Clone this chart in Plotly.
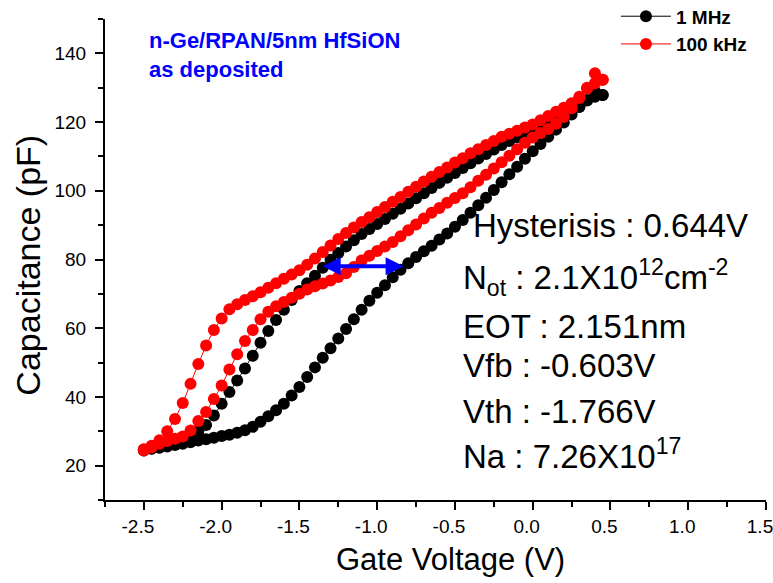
import plotly.graph_objects as go

# Gate voltage sweep points (V)
voltage = [-2.50, -2.45, -2.40, -2.35, -2.30, -2.25, -2.20, -2.15, -2.10, -2.05,
           -2.00, -1.95, -1.90, -1.85, -1.80, -1.75, -1.70, -1.65, -1.60, -1.55,
           -1.50, -1.45, -1.40, -1.35, -1.30, -1.25, -1.20, -1.15, -1.10, -1.05,
           -1.00, -0.95, -0.90, -0.85, -0.80, -0.75, -0.70, -0.65, -0.60, -0.55,
           -0.50, -0.45, -0.40, -0.35, -0.30, -0.25, -0.20, -0.15, -0.10, -0.05,
           0.00, 0.05, 0.10, 0.15, 0.20, 0.25, 0.30, 0.35, 0.40, 0.45]

# 1 MHz: forward sweep (lower branch) and reverse sweep (upper branch), pF
mhz_forward = [24.6, 24.9, 25.2, 25.6, 26.0, 26.4, 26.8, 27.3, 27.7, 28.1,
               28.6, 29.0, 29.6, 30.3, 31.3, 32.8, 34.4, 36.1, 38.0, 40.4,
               42.9, 45.8, 48.6, 51.4, 54.2, 57.0, 59.8, 62.6, 65.4, 68.0,
               70.3, 72.5, 74.8, 77.0, 78.9, 80.7, 82.4, 84.0, 85.8, 87.6,
               89.5, 91.5, 93.6, 95.8, 98.0, 100.2, 102.5, 104.8, 107.0, 109.3,
               111.5, 113.6, 115.7, 117.8, 119.9, 122.2, 124.4, 126.4, 127.4, 127.9]
mhz_reverse = [24.4, 25.0, 25.6, 26.3, 27.0, 27.8, 28.8, 30.0, 31.8, 34.6,
               38.0, 41.4, 44.8, 48.3, 52.0, 55.8, 59.2, 62.4, 65.4, 68.2,
               70.8, 73.1, 75.3, 77.6, 79.9, 81.9, 83.8, 85.6, 87.4, 88.9,
               90.3, 91.8, 93.3, 94.8, 96.3, 97.8, 99.3, 100.8, 102.3, 103.8,
               105.2, 106.6, 108.0, 109.4, 110.7, 112.0, 113.3, 114.5, 115.6, 116.7,
               117.8, 118.9, 120.0, 121.0, 122.0, 123.2, 124.5, 126.3, 128.9, 127.9]

# 100 kHz: forward and reverse sweeps, pF
khz_forward = [24.4, 25.3, 26.4, 27.2, 27.8, 28.5, 30.2, 33.0, 35.6, 39.4,
               43.3, 48.0, 52.4, 56.3, 59.5, 62.6, 64.8, 66.4, 67.6, 68.9,
               70.0, 71.3, 72.2, 73.0, 73.9, 74.9, 76.0, 77.8, 79.7, 81.1,
               82.5, 83.8, 85.1, 86.8, 88.5, 90.2, 91.9, 93.6, 95.0, 96.5,
               97.9, 99.3, 101.0, 102.9, 104.7, 106.5, 108.3, 110.2, 112.1, 114.0,
               115.5, 116.8, 118.0, 119.5, 121.5, 124.0, 127.0, 130.0, 131.3, 132.3]
khz_reverse = [24.8, 25.8, 27.4, 30.0, 33.6, 38.2, 43.8, 49.6, 55.0, 59.5,
               62.8, 65.5, 67.0, 68.2, 69.3, 70.5, 71.8, 73.1, 74.4, 75.6,
               76.9, 78.5, 80.3, 82.2, 84.1, 86.0, 87.7, 89.3, 90.9, 92.3,
               93.8, 95.3, 96.8, 98.2, 99.7, 101.2, 102.7, 104.1, 105.5, 106.8,
               108.2, 109.5, 110.9, 112.1, 113.3, 114.5, 115.7, 116.6, 117.5, 118.4,
               119.3, 120.5, 121.8, 123.0, 124.2, 125.5, 127.4, 129.8, 134.2, 132.3]

series_names = ["1 MHz", "100 kHz"]
x_ticks = [-2.5, -2.0, -1.5, -1.0, -0.5, 0.0, 0.5, 1.0, 1.5]
y_ticks = [20, 40, 60, 80, 100, 120, 140]

# hysteresis arrow end points (V, pF)
arrow_v = [-1.36, -0.83]
arrow_c = [78.0, 78.0]

FONT = "Liberation Sans, Arial, sans-serif"

fig = go.Figure()

def loop(fwd, rev):
    xs = list(voltage) + list(reversed(voltage))
    ys = list(fwd) + list(reversed(rev))
    return xs, ys

for name, fwd, rev, col in [(series_names[0], mhz_forward, mhz_reverse, "#000000"),
                            (series_names[1], khz_forward, khz_reverse, "#FF0000")]:
    xs, ys = loop(fwd, rev)
    fig.add_trace(go.Scatter(
        x=xs, y=ys, mode="lines+markers", name=name,
        line=dict(color=col, width=1),
        marker=dict(color=col, size=12, symbol="circle", line=dict(width=0)),
    ))

fig.add_annotation(
    x=arrow_v[1], y=arrow_c[1], ax=arrow_v[0], ay=arrow_c[0],
    xref="x", yref="y", axref="x", ayref="y",
    text="", showarrow=True, arrowhead=2, startarrowhead=2, arrowside="end+start",
    arrowsize=0.9, startarrowsize=0.9, arrowwidth=4, arrowcolor="#0000FF",
)

big = dict(family=FONT, size=33, color="black")
lines = [
    ("Hysterisis : 0.644V", 0.553, 0.570),
    ("N<sub>ot</sub> : 2.1X10<sup>12</sup>cm<sup>-2</sup>", 0.538, 0.462),
    ("EOT : 2.151nm", 0.538, 0.360),
    ("Vfb : -0.603V", 0.538, 0.2805),
    ("Vth : -1.766V", 0.538, 0.185),
    ("Na : 7.26X10<sup>17</sup>", 0.538, 0.095),
]
for txt, xp, yp in lines:
    fig.add_annotation(x=xp, y=yp, xref="paper", yref="paper", text=txt,
                       showarrow=False, xanchor="left", yanchor="middle",
                       font=big, align="left")

fig.add_annotation(x=0.064, y=0.985, xref="paper", yref="paper",
                   text="<b>n-Ge/RPAN/5nm HfSiON<br>as deposited</b>",
                   showarrow=False, xanchor="left", yanchor="top", align="left",
                   font=dict(family=FONT, size=22, color="#0000FF"))

# axis titles
fig.add_annotation(x=-0.117, y=0.4886, xref="paper", yref="paper",
                   text="Capacitance (pF)", textangle=-90, showarrow=False,
                   xanchor="center", yanchor="middle",
                   font=dict(family=FONT, size=34, color="black"))
fig.add_annotation(x=0.523, y=-0.1247, xref="paper", yref="paper",
                   text="Gate Voltage (V)", showarrow=False,
                   xanchor="center", yanchor="middle",
                   font=dict(family=FONT, size=31, color="black"))

axis_common = dict(
    showline=True, linecolor="black", linewidth=2, mirror=False,
    ticks="outside", ticklen=8, tickwidth=2, tickcolor="black",
    showgrid=False, zeroline=False,
    tickfont=dict(family=FONT, size=19, color="black"),
)

fig.update_layout(
    width=773, height=583,
    margin=dict(l=105, r=7, t=19, b=83, autoexpand=False),
    paper_bgcolor="white", plot_bgcolor="white",
    showlegend=True,
    legend=dict(x=0.773, y=1.045, xanchor="left", yanchor="top",
                bgcolor="rgba(0,0,0,0)", itemwidth=50,
                font=dict(family=FONT, size=19, color="black", weight="bold"),
                tracegroupgap=0),
    xaxis=dict(range=[-2.75, 1.5], tickvals=x_ticks,
               ticktext=[f"{v:.1f}" for v in x_ticks],
               ticklabelshift=-6, ticklabeloverflow="allow",
               minor=dict(dtick=0.25, ticks="outside", ticklen=5, tickwidth=2, tickcolor="black"),
               **axis_common),
    yaxis=dict(range=[10, 150], tickvals=y_ticks, ticklabelstandoff=5,
               minor=dict(dtick=10, ticks="outside", ticklen=5, tickwidth=2, tickcolor="black"),
               **axis_common),
)

fig.write_html("out.html")
